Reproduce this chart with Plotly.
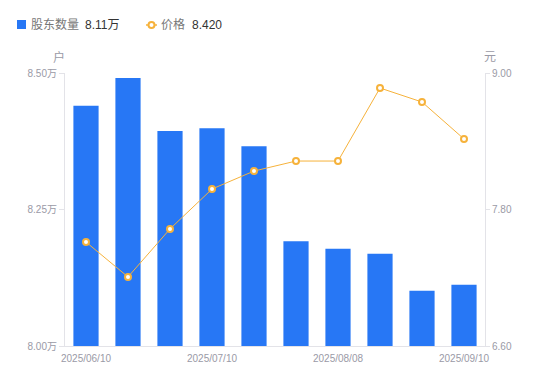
import plotly.graph_objects as go

dates = ["2025/06/10", "2025/06/20", "2025/06/30", "2025/07/10", "2025/07/20",
         "2025/07/31", "2025/08/08", "2025/08/20", "2025/08/31", "2025/09/10"]
holders = [8.44, 8.491, 8.394, 8.399, 8.366, 8.192, 8.178, 8.169, 8.101, 8.112]
price = [7.514, 7.207, 7.629, 7.98, 8.138, 8.226, 8.226, 8.868, 8.745, 8.42]
tick_dates = ["2025/06/10", "2025/07/10", "2025/08/08", "2025/09/10"]
left_ticks = [8.00, 8.25, 8.50]
left_text = ["8.00万", "8.25万", "8.50万"]
right_ticks = [6.60, 7.80, 9.00]
right_text = ["6.60", "7.80", "9.00"]

FONT = "'Liberation Sans', 'Noto Sans CJK SC', sans-serif"
GRAY = "#9a9aa6"
AXIS = "#e3e3e8"
BLUE = "#2777f5"
ORANGE = "#f6b23b"

W, H = 550, 381
L, R, T, B = 65, 65, 73, 35
PW, PH = W - L - R, H - T - B


def px(x):
    return (x - L) / PW


def py(y):
    return (H - B - y) / PH


fig = go.Figure()
fig.add_trace(go.Bar(
    x=dates, y=holders, name="股东数量",
    marker=dict(color=BLUE, line=dict(width=0)), width=0.6, yaxis="y",
))
fig.add_trace(go.Scatter(
    x=dates, y=price, name="价格", yaxis="y2",
    mode="lines+markers",
    line=dict(color=ORANGE, width=1),
    marker=dict(symbol="circle", size=6, color="white", line=dict(color=ORANGE, width=2)),
))

shapes = [
    dict(type="rect", xref="paper", yref="paper", x0=px(17), x1=px(26), y0=py(29), y1=py(20),
         fillcolor=BLUE, line=dict(width=0), layer="above"),
    dict(type="line", xref="paper", yref="paper", x0=px(146), x1=px(157), y0=py(25), y1=py(25),
         line=dict(color=ORANGE, width=1.5)),
    dict(type="circle", xref="paper", yref="paper", x0=px(148.5), x1=px(154.5), y0=py(28), y1=py(22),
         fillcolor="white", line=dict(color=ORANGE, width=2)),
]

annotations = [
    dict(text="股东数量", x=px(29), y=py(25), xanchor="left", yanchor="middle",
         font=dict(size=12, color="#777")),
    dict(text="8.11万", x=px(83), y=py(25), xanchor="left", yanchor="middle",
         font=dict(size=12, color="#333")),
    dict(text="价格", x=px(159), y=py(25), xanchor="left", yanchor="middle",
         font=dict(size=12, color="#777")),
    dict(text="8.420", x=px(190), y=py(25), xanchor="left", yanchor="middle",
         font=dict(size=12, color="#333")),
    dict(text="户", x=px(59), y=py(57), xanchor="center", yanchor="middle",
         font=dict(size=12, color=GRAY)),
    dict(text="元", x=px(490), y=py(57), xanchor="center", yanchor="middle",
         font=dict(size=12, color=GRAY)),
]
for a in annotations:
    a.update(xref="paper", yref="paper", showarrow=False)

fig.update_layout(
    width=W, height=H,
    margin=dict(l=L, r=R, t=T, b=B),
    paper_bgcolor="white", plot_bgcolor="white",
    font=dict(family=FONT, size=10, color=GRAY),
    showlegend=False,
    xaxis=dict(
        type="category", tickmode="array", tickvals=tick_dates, ticktext=tick_dates,
        range=[-0.5, len(dates) - 0.5],
        showline=True, linecolor=AXIS, linewidth=1, ticks="", showgrid=False,
        tickfont=dict(size=10, color=GRAY), automargin=False, ticklabelstandoff=3,
    ),
    yaxis=dict(
        range=[8.0, 8.5], tickvals=left_ticks, ticktext=left_text,
        showline=True, linecolor=AXIS, linewidth=1, ticks="outside", ticklen=5,
        tickcolor=AXIS, showgrid=False, zeroline=False, automargin=False,
        tickfont=dict(size=10, color=GRAY),
    ),
    yaxis2=dict(
        range=[6.6, 9.0], tickvals=right_ticks, ticktext=right_text, overlaying="y",
        side="right", showline=True, linecolor=AXIS, linewidth=1, ticks="outside",
        ticklen=4, tickcolor=AXIS, showgrid=False, zeroline=False, automargin=False,
        tickfont=dict(size=10, color=GRAY),
    ),
    shapes=shapes,
    annotations=annotations,
)

fig.write_html("out.html", config={"displayModeBar": False},
               post_script="document.body.style.margin='0';")
